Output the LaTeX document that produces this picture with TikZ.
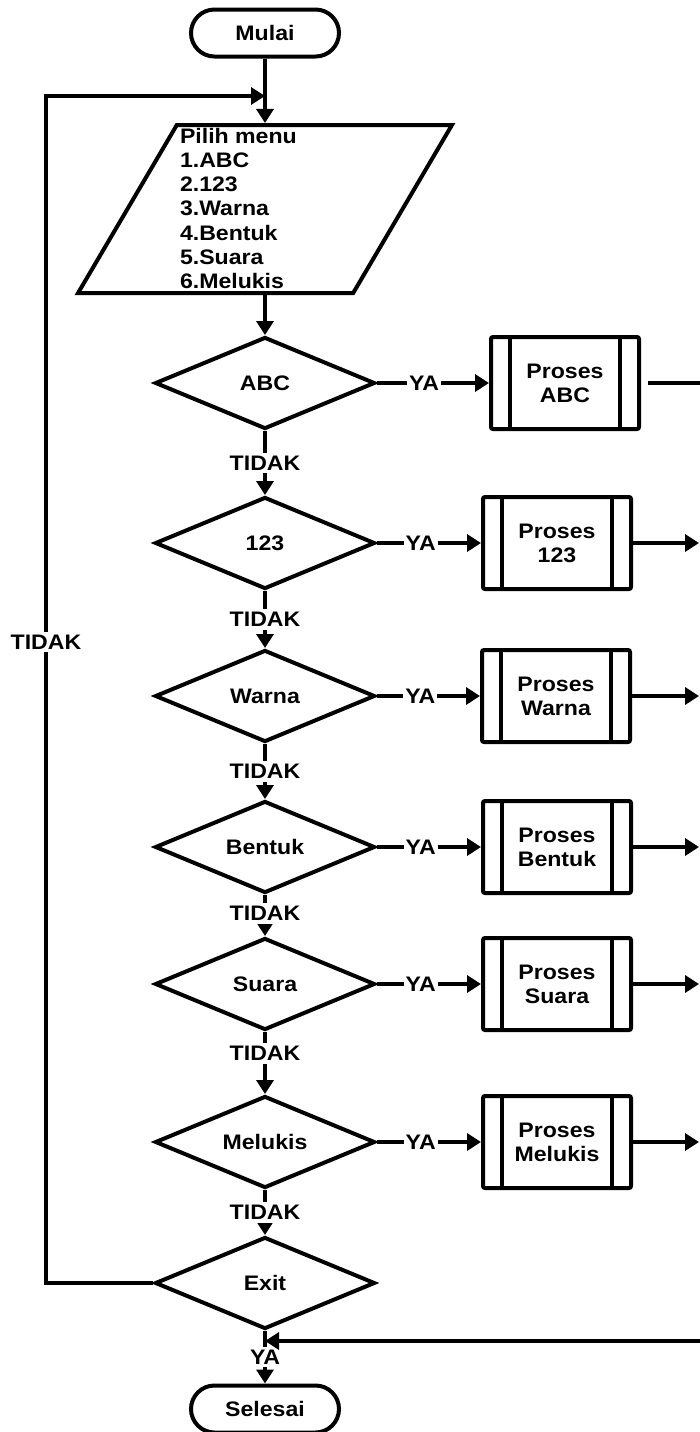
\documentclass[tikz,border=0pt]{standalone}
\usepackage{fontspec}
\setmainfont{Liberation Sans}[FakeStretch=1.1]
\usetikzlibrary{arrows.meta,shapes.geometric}

\begin{document}
\begin{tikzpicture}[
x=0.5pt, y=-0.5pt,
font=\bfseries\fontsize{10.5}{12.1}\selectfont,
line width=2pt,
terminal/.style={draw, rectangle, rounded corners=11.75pt, minimum width=74pt, minimum height=23.5pt, inner sep=0pt},
menubox/.style={draw, trapezium, trapezium left angle=59.5, trapezium right angle=120.5, trapezium stretches=true, minimum width=187pt, minimum height=84pt, inner sep=1pt},
menutext/.style={anchor=north west, align=left, inner sep=0pt},
decision/.style={draw, diamond, shape aspect=2.4, minimum width=110pt, minimum height=46pt, inner sep=0pt},
process/.style={draw, rectangle, rounded corners=1pt, minimum width=74pt, minimum height=46pt, align=center, inner sep=0pt,
  path picture={\draw ([xshift=9.5pt]path picture bounding box.north west) -- ([xshift=9.5pt]path picture bounding box.south west);
                \draw ([xshift=-9.5pt]path picture bounding box.north east) -- ([xshift=-9.5pt]path picture bounding box.south east);}},
arrowlabel/.style={fill=white, inner xsep=1pt, inner ysep=1.5pt},
arrow/.style={-{Triangle[length=7pt,width=8.5pt]}}
]
\useasboundingbox (0,0) rectangle (700,1432);

% start and menu
\node[terminal] (mulai) at (265,33) {Mulai};
\node[menubox] (menu) at (265,209) {\phantom{X}};
\node[menutext] (menulist) at (178,126) {Pilih menu\\1.ABC\\2.123\\3.Warna\\4.Bentuk\\5.Suara\\6.Melukis};

% decisions
\node[decision] (abc) at (265,383) {ABC};
\node[decision] (num) at (265,543) {123};
\node[decision] (warna) at (265,696) {Warna};
\node[decision] (bentuk) at (265,847) {Bentuk};
\node[decision] (suara) at (265,984) {Suara};
\node[decision] (melukis) at (265,1142) {Melukis};
\node[decision] (exit) at (265,1283) {Exit};
\node[terminal] (selesai) at (265,1409) {Selesai};

% processes
\node[process] (pabc) at (565,383) {Proses\\ABC};
\node[process] (pnum) at (557,543) {Proses\\123};
\node[process] (pwarna) at (556,696) {Proses\\Warna};
\node[process] (pbentuk) at (557,847) {Proses\\Bentuk};
\node[process] (psuara) at (557,984) {Proses\\Suara};
\node[process] (pmelukis) at (557,1142) {Proses\\Melukis};

\coordinate (redge) at (699,0);
\coordinate (back) at (700,1341);
\coordinate (loopbot) at (46,1283);
\coordinate (looptop) at (46,96);

\draw[arrow] (mulai.south) -- (mulai.south |- menu.north);
\draw[arrow] (abc.north |- menu.south) -- (abc.north);

\foreach \a/\b/\p in {abc/num/0.5, num/warna/0.5, warna/bentuk/0.5, bentuk/suara/0.45, suara/melukis/0.35, melukis/exit/0.5}
  \draw[arrow] (\a.south) -- node[arrowlabel, pos=\p] {TIDAK} (\b.north);

\foreach \d/\p in {abc/pabc, num/pnum, warna/pwarna, bentuk/pbentuk, suara/psuara, melukis/pmelukis}
  \draw[arrow] (\d.east) -- node[arrowlabel, pos=0.42] {YA} (\p.west);

\draw[shorten <=3.5pt] (pabc.east) -- (pabc.east -| back);
\foreach \p in {pnum, pwarna, pbentuk, psuara, pmelukis}
  \draw[arrow] (\p.east) -- (\p.east -| redge);

\draw[arrow] (exit.south) -- node[arrowlabel] {YA} (selesai.north);
\draw[arrow] (back) -- (back -| exit.south);
\draw[arrow] (exit.west) -- (loopbot) -- node[arrowlabel, pos=0.54] {TIDAK} (looptop) -- (mulai.south |- looptop);
\end{tikzpicture}
\end{document}
